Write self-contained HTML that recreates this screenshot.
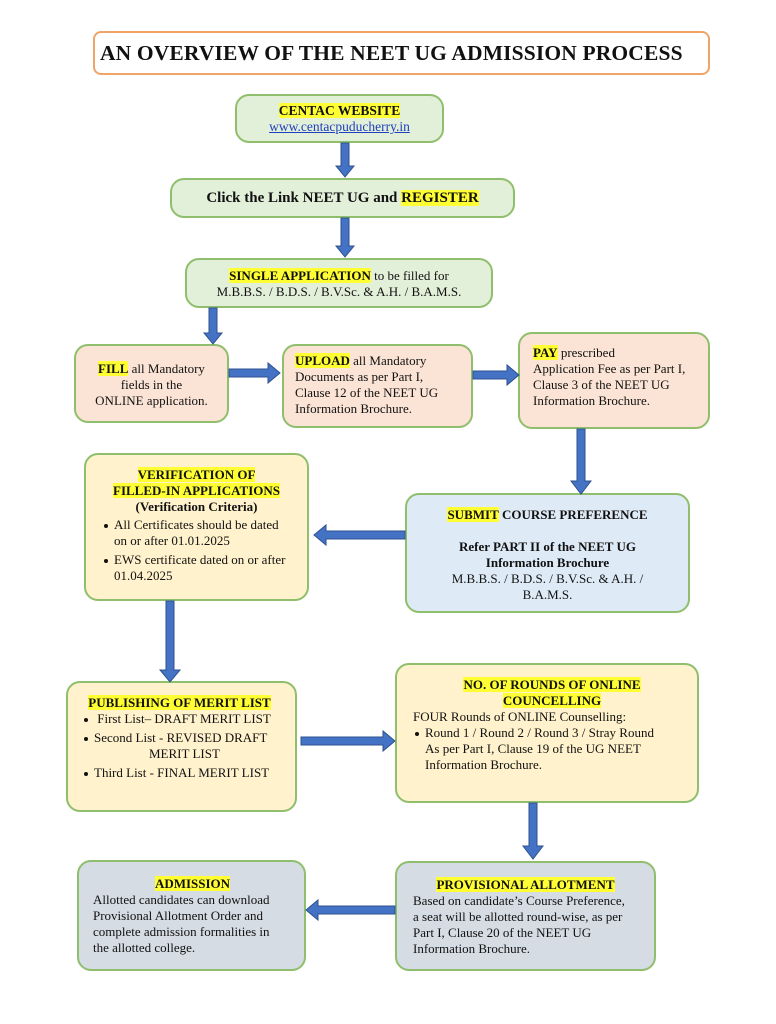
<!DOCTYPE html>
<html><head><meta charset="utf-8"><style>
*{margin:0;padding:0;box-sizing:border-box}
body{width:776px;height:1024px;background:#fff;position:relative;font-family:"Liberation Serif",serif;font-size:13px;color:#111;overflow:hidden}
.b{position:absolute;border:2px solid #8fbf6c;border-radius:14px;line-height:16px;white-space:nowrap}
.g{background:#e2efd9}.p{background:#fbe4d5}.bl{background:#deebf7}.y{background:#fff2cc}.gr{background:#d6dce4}
.h{background:#ffff33;font-weight:bold}
.c{text-align:center}
b{font-weight:bold}
ul{list-style:none}
li{position:relative;padding-left:12px;margin-bottom:3px}
li:before{content:"";position:absolute;left:2px;top:7px;width:4px;height:4px;border-radius:50%;background:#111}
svg{position:absolute;left:0;top:0}
</style></head><body>
<div style="position:absolute;left:93px;top:31px;width:617px;height:44px;border:2.5px solid #f0a468;border-radius:8px;font-weight:bold;font-size:21.5px;letter-spacing:0.15px;line-height:40px;padding-left:5px;white-space:nowrap">AN OVERVIEW OF THE NEET UG ADMISSION PROCESS</div>

<div class="b g c" style="left:235px;top:94px;width:209px;height:49px;padding-top:7px;font-size:13.5px"><span class="h">CENTAC WEBSITE</span><br><span style="color:#1f3fbf;text-decoration:underline">www.centacpuducherry.in</span></div>

<div class="b g c" style="left:170px;top:178px;width:345px;height:40px;font-weight:bold;font-size:15px;line-height:36px">Click the Link NEET UG and <span class="h">REGISTER</span></div>

<div class="b g c" style="left:185px;top:258px;width:308px;height:50px;padding-top:8px"><span class="h">SINGLE APPLICATION</span> to be filled for<br>M.B.B.S. / B.D.S. / B.V.Sc. &amp; A.H. / B.A.M.S.</div>

<div class="b p c" style="left:74px;top:344px;width:155px;height:79px;padding-top:15px"><span class="h">FILL</span> all Mandatory<br>fields in the<br>ONLINE application.</div>

<div class="b p" style="left:282px;top:344px;width:191px;height:84px;padding:7px 0 0 11px"><span class="h">UPLOAD</span> all Mandatory<br>Documents as per Part I,<br>Clause 12 of the NEET UG<br>Information Brochure.</div>

<div class="b p" style="left:518px;top:332px;width:192px;height:97px;padding:11px 0 0 13px"><span class="h">PAY</span> prescribed<br>Application Fee as per Part I,<br>Clause 3 of the NEET UG<br>Information Brochure.</div>

<div class="b bl c" style="left:405px;top:493px;width:285px;height:120px;padding-top:12px"><span class="h">SUBMIT</span> <b>COURSE PREFERENCE</b><br><br><b>Refer PART II of the NEET UG<br>Information Brochure</b><br>M.B.B.S. / B.D.S. / B.V.Sc. &amp; A.H. /<br>B.A.M.S.</div>

<div class="b y" style="left:84px;top:453px;width:225px;height:148px;padding:12px 4px 0 16px">
<div class="c" style="padding-right:12px"><span class="h">VERIFICATION OF</span><br><span class="h">FILLED-IN APPLICATIONS</span><br><b>(Verification Criteria)</b></div>
<ul style="margin-top:2px"><li>All Certificates should be dated<br>on or after 01.01.2025</li><li>EWS certificate dated on or after<br>01.04.2025</li></ul></div>

<div class="b y" style="left:66px;top:681px;width:231px;height:131px;padding:12px 4px 0 14px">
<div class="c" style="padding-right:14px"><span class="h">PUBLISHING OF MERIT LIST</span></div>
<ul><li>&nbsp;First List– DRAFT MERIT LIST</li><li>Second List - REVISED DRAFT<br><span style="padding-left:55px">MERIT LIST</span></li><li>Third List - FINAL MERIT LIST</li></ul></div>

<div class="b y" style="left:395px;top:663px;width:304px;height:140px;padding:12px 6px 0 16px">
<div class="c"><span class="h">NO. OF ROUNDS OF ONLINE </span><br><span class="h">COUNCELLING</span></div>
<div>FOUR Rounds of ONLINE Counselling:</div>
<ul><li>Round 1 / Round 2 / Round 3 / Stray Round<br>As per Part I, Clause 19 of the UG NEET<br>Information Brochure.</li></ul></div>

<div class="b gr" style="left:395px;top:861px;width:261px;height:110px;padding:14px 6px 0 16px">
<div class="c" style="padding-right:10px"><span class="h">PROVISIONAL ALLOTMENT</span></div>
Based on candidate’s Course Preference,<br>a seat will be allotted round-wise, as per<br>Part I, Clause 20 of the NEET UG<br>Information Brochure.</div>

<div class="b gr" style="left:77px;top:860px;width:229px;height:111px;padding:14px 4px 0 14px">
<div class="c" style="padding-right:8px"><span class="h">ADMISSION</span></div>
Allotted candidates can download<br>Provisional Allotment Order and<br>complete admission formalities in<br>the allotted college.</div>

<svg width="776" height="1024" fill="#4472c4" stroke="#2f528f" stroke-width="1">
<polygon points="341,143 349,143 349,166 354,166 345,177 336,166 341,166"/>
<polygon points="341,218 349,218 349,246 354,246 345,257 336,246 341,246"/>
<polygon points="209,308 217,308 217,333 222,333 213,344 204,333 209,333"/>
<polygon points="577,429 585,429 585,481 591,481 581,494 571,481 577,481"/>
<polygon points="166,601 174,601 174,670 180,670 170,682 160,670 166,670"/>
<polygon points="529,803 537,803 537,846 543,846 533,859 523,846 529,846"/>
<polygon points="229,369 268,369 268,363 280,373 268,383 268,377 229,377"/>
<polygon points="473,371 507,371 507,365 519,375 507,385 507,379 473,379"/>
<polygon points="301,737 383,737 383,731 395,741 383,751 383,745 301,745"/>
<polygon points="405,531 326,531 326,525 314,535 326,545 326,539 405,539"/>
<polygon points="395,906 318,906 318,900 306,910 318,920 318,914 395,914"/>
</svg>
</body></html>
